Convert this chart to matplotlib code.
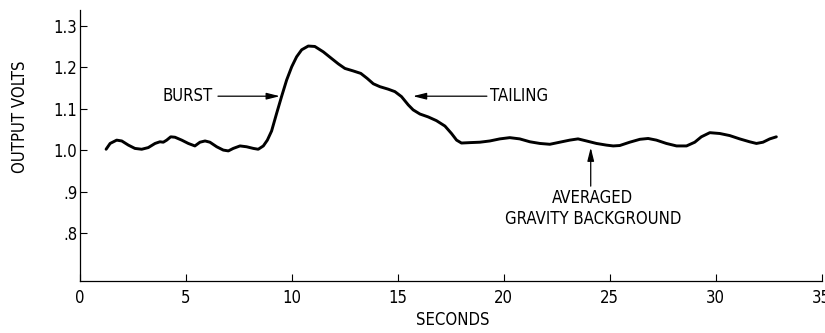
import matplotlib.pyplot as plt

# readings taken off the scanned trace
seconds = [1.23, 1.42, 1.73, 1.97, 2.28, 2.59, 2.91, 3.22, 3.54, 3.77, 3.93,
           4.09, 4.28, 4.48, 4.80, 5.11, 5.42, 5.66, 5.90, 6.13, 6.45, 6.76,
           7.00, 7.23, 7.55, 7.86, 8.18, 8.41, 8.65, 8.84, 9.04, 9.28, 9.51,
           9.75, 9.99, 10.22, 10.46, 10.77, 11.08, 11.48, 11.87, 12.19, 12.50,
           12.89, 13.25, 13.55, 13.84, 14.15, 14.54, 14.86, 15.17, 15.49,
           15.72, 16.04, 16.43, 16.82, 17.22, 17.53, 17.77, 18.00, 18.40,
           18.87, 19.34, 19.81, 20.28, 20.75, 21.23, 21.70, 22.17, 22.64,
           23.11, 23.50, 23.90, 24.37, 24.84, 25.16, 25.47, 25.94, 26.42,
           26.81, 27.20, 27.67, 28.15, 28.62, 29.01, 29.32, 29.72, 30.19,
           30.66, 31.13, 31.60, 31.92, 32.23, 32.55, 32.86]
volts = [1.002, 1.016, 1.024, 1.022, 1.012, 1.004, 1.002, 1.006, 1.016, 1.020,
         1.019, 1.024, 1.032, 1.031, 1.024, 1.016, 1.010, 1.019, 1.022, 1.019,
         1.008, 1.000, 0.998, 1.004, 1.010, 1.008, 1.004, 1.002, 1.010, 1.024,
         1.046, 1.089, 1.129, 1.169, 1.201, 1.225, 1.242, 1.251, 1.250, 1.237,
         1.221, 1.208, 1.197, 1.191, 1.185, 1.173, 1.160, 1.153, 1.147, 1.141,
         1.129, 1.109, 1.097, 1.087, 1.080, 1.071, 1.058, 1.040, 1.024, 1.017,
         1.018, 1.019, 1.022, 1.027, 1.030, 1.027, 1.020, 1.016, 1.014, 1.019,
         1.024, 1.027, 1.022, 1.016, 1.012, 1.010, 1.011, 1.019, 1.026, 1.028,
         1.024, 1.016, 1.010, 1.010, 1.019, 1.032, 1.042, 1.040, 1.035, 1.027,
         1.020, 1.016, 1.019, 1.027, 1.032]

x_ticks = [0, 5, 10, 15, 20, 25, 30, 35]
y_ticks = [0.8, 0.9, 1.0, 1.1, 1.2, 1.3]
y_labels = [".8", ".9", "1.0", "1.1", "1.2", "1.3"]

plt.rcParams['font.family'] = ['Liberation Sans Narrow', 'DejaVu Sans']
plt.rcParams['font.stretch'] = 'condensed'

fig = plt.figure(figsize=(8.25, 3.33), dpi=100)
ax = fig.add_axes([0.097, 0.156, 0.899, 0.814])

ax.plot(seconds, volts, color='black', lw=2.1, solid_joinstyle='round',
        solid_capstyle='round')

ax.set_xlim(0, 35)
ax.set_ylim(0.684, 1.338)
ax.set_xticks(x_ticks)
ax.set_yticks(y_ticks)
ax.set_yticklabels(y_labels)
ax.tick_params(direction='in', length=5, width=0.8, labelsize=12, colors='black')
ax.tick_params(axis='x', pad=6)
ax.tick_params(axis='y', pad=2)

for side in ['top', 'right']:
    ax.spines[side].set_visible(False)
for side in ['left', 'bottom']:
    ax.spines[side].set_linewidth(0.9)

arrow = dict(arrowstyle='-|>,head_length=0.8,head_width=0.2', color='black',
             lw=0.9, shrinkA=0, shrinkB=0)
txt = dict(fontsize=12, color='black')

ax.text(3.87, 1.130, "BURST", ha='left', va='center', **txt)
ax.annotate("", xy=(9.43, 1.130), xytext=(6.51, 1.130), arrowprops=arrow)

ax.text(19.34, 1.130, "TAILING", ha='left', va='center', **txt)
ax.annotate("", xy=(15.71, 1.130), xytext=(19.2, 1.130), arrowprops=arrow)

ax.text(24.2, 0.884, "AVERAGED", ha='center', va='center', **txt)
ax.text(24.2, 0.833, "GRAVITY BACKGROUND", ha='center', va='center', **txt)
ax.annotate("", xy=(24.1, 1.006), xytext=(24.1, 0.913), arrowprops=arrow)

fig.text(20 / 825, 1 - 117 / 333, "OUTPUT VOLTS", rotation=90,
         ha='center', va='center', **txt)
fig.text(453 / 825, 1 - 320 / 333, "SECONDS", ha='center', va='center', **txt)

fig.savefig("out.png", dpi=100)
